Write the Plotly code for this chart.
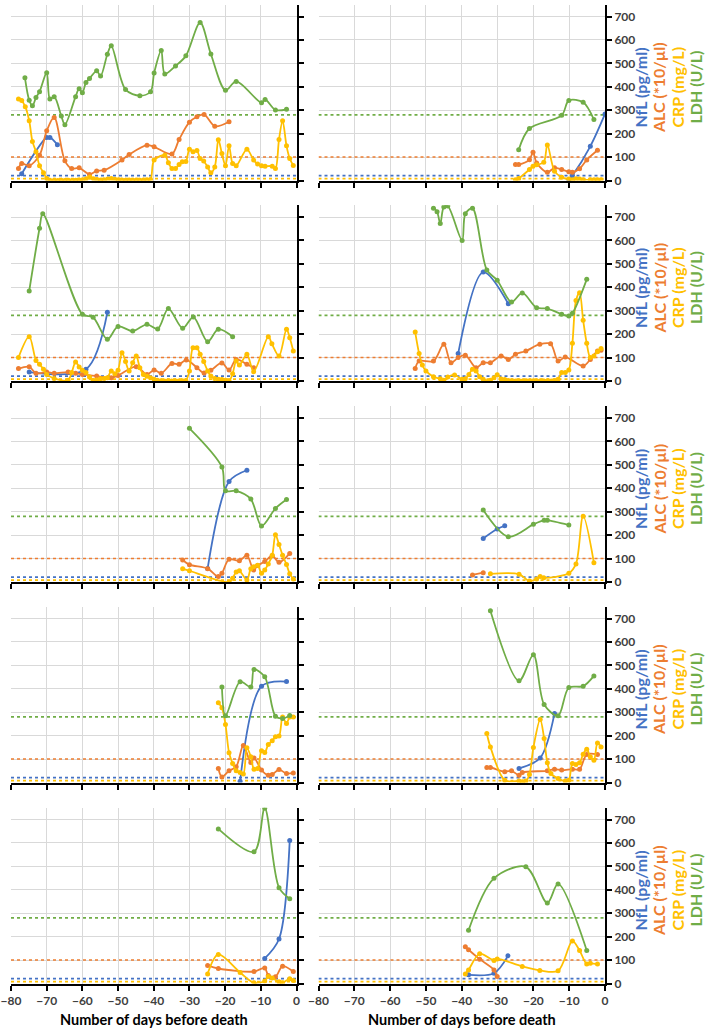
import plotly.graph_objects as go

W, H = 709, 1029
DAY_RANGE = [-80, 0]
VAL_MAX = 750
X_TICKS = [-80, -70, -60, -50, -40, -30, -20, -10, 0]
Y_TICKS = [0, 100, 200, 300, 400, 500, 600, 700]
X_TITLE = "Number of days before death"
SERIES_NAMES = ["NfL (pg/ml)", "ALC (*10/µl)", "CRP (mg/L)", "LDH (U/L)"]
COLORS = ["#4472C4", "#ED7D31", "#FFC000", "#70AD47"]
REF_VALUES = [21, 100, 8, 280]  # NfL, ALC, CRP, LDH cut-offs

# ---------- Panel 1 (row 1, left) ----------
P1_NFL = [(-77.0, 29), (-70.0, 184), (-69.1, 184), (-67.0, 153)]
P1_ALC = [(-77.9, 51), (-77.0, 73), (-74.9, 63), (-72.0, 108), (-70.0, 212), (-67.9, 269),
          (-64.9, 84), (-63.0, 51), (-60.9, 54), (-58.0, 26), (-56.0, 41), (-53.9, 44),
          (-48.9, 88), (-46.9, 111), (-41.9, 151), (-39.9, 144), (-34.9, 113), (-32.9, 175),
          (-30.0, 249), (-27.9, 272), (-25.9, 282), (-22.9, 232), (-18.9, 251)]
P1_CRP = [(-77.9, 348), (-77.0, 341), (-76.0, 315), (-74.9, 255), (-74.0, 167), (-73.0, 123),
          (-72.0, 63), (-70.9, 33), (-70.0, 9), (-69.1, 1), (-67.9, 1), (-66.9, 0), (-65.9, 1),
          (-64.9, 0), (-63.9, 1), (-62.9, 0), (-61.9, 1), (-60.9, 2), (-59.9, 3), (-58.9, 8),
          (-57.9, 15), (-56.9, 8), (-55.9, 4), (-54.9, 2), (-53.9, 3), (-52.9, 6), (-51.9, 9),
          (-50.9, 5), (-49.9, 3), (-48.9, 2), (-47.9, 1), (-46.9, 2), (-45.9, 1), (-44.9, 2),
          (-43.9, 1), (-42.9, 2), (-41.9, 3), (-40.9, 4), (-39.9, 87), (-36.9, 108),
          (-35.9, 76), (-34.9, 51), (-33.9, 51), (-32.9, 68), (-32.0, 80), (-31.0, 81),
          (-30.0, 133), (-29.0, 123), (-27.9, 128), (-27.0, 94), (-26.0, 83), (-24.9, 58),
          (-24.0, 33), (-22.9, 58), (-21.9, 174), (-20.9, 115), (-19.9, 63), (-18.9, 148),
          (-17.9, 73), (-16.9, 63), (-13.9, 133), (-12.0, 87), (-10.9, 70), (-9.8, 63),
          (-8.8, 61), (-6.8, 61), (-5.9, 51), (-4.9, 175), (-3.9, 255), (-2.8, 148),
          (-1.9, 94), (-0.9, 64)]
P1_LDH = [(-76.1, 439), (-74.9, 343), (-74.0, 319), (-73.0, 354), (-72.0, 379), (-70.0, 460),
          (-69.1, 348), (-67.9, 358), (-65.9, 275), (-64.9, 238), (-61.9, 358), (-60.9, 392),
          (-60.0, 375), (-59.0, 418), (-58.0, 435), (-56.0, 468), (-54.9, 446), (-53.0, 539),
          (-51.9, 575), (-47.9, 388), (-43.9, 362), (-40.9, 379), (-39.9, 459), (-37.9, 555),
          (-36.9, 455), (-33.9, 489), (-31.0, 532), (-27.0, 674), (-24.0, 540), (-19.9, 385),
          (-16.9, 423), (-9.8, 332), (-8.8, 346), (-5.9, 301), (-2.8, 304)]

# ---------- Panel 2 (row 1, right) ----------
P2_NFL = [(-10.1, 2), (-9.1, 21), (-4.1, 146), (0.0, 284)]
P2_ALC = [(-25.0, 68), (-24.1, 68), (-21.1, 89), (-20.1, 121), (-19.1, 75), (-16.1, 35),
          (-14.1, 54), (-12.1, 47), (-10.1, 37), (-9.1, 35), (-7.1, 50), (-5.1, 88), (-2.1, 129)]
P2_CRP = [(-25.0, 3), (-24.1, 9), (-21.1, 47), (-20.1, 61), (-19.1, 67), (-17.1, 78),
          (-16.1, 152), (-14.1, 40), (-12.1, 14), (-10.1, 6), (-9.1, 3), (-8.1, 7), (-7.1, 6),
          (-6.1, 3), (-4.1, 3), (-3.1, 3), (-2.1, 3), (-1.1, 3)]
P2_LDH = [(-24.1, 131), (-21.1, 222), (-12.1, 278), (-10.1, 342), (-6.1, 334), (-3.1, 260)]

# ---------- Panel 3 (row 2, left) ----------
P3_NFL = [(-74.9, 38), (-59.0, 50), (-53.0, 293)]
P3_ALC = [(-77.9, 53), (-74.9, 61), (-73.0, 33), (-70.0, 38), (-67.9, 33), (-64.0, 38),
          (-61.9, 33), (-60.0, 28), (-56.0, 21), (-51.9, 14), (-50.0, 24), (-44.9, 61),
          (-41.9, 28), (-39.9, 47), (-37.9, 33), (-34.9, 75), (-32.9, 71), (-30.9, 90),
          (-27.9, 57), (-25.9, 34), (-24.0, 46), (-20.9, 77), (-18.9, 47), (-16.9, 92),
          (-13.9, 71), (-12.0, 57)]
P3_CRP = [(-77.9, 100), (-74.9, 189), (-73.0, 88), (-72.0, 71), (-70.9, 50), (-70.0, 28),
          (-67.9, 11), (-64.0, 3), (-63.0, 36), (-61.9, 81), (-60.9, 60), (-60.0, 46),
          (-59.0, 36), (-58.0, 17), (-57.0, 3), (-56.0, 4), (-54.9, 10), (-53.9, 11),
          (-53.0, 14), (-51.9, 43), (-50.9, 31), (-50.0, 46), (-48.9, 121), (-47.9, 83),
          (-46.9, 43), (-45.9, 78), (-44.9, 107), (-43.9, 57), (-42.9, 28), (-41.9, 20),
          (-40.9, 14), (-39.9, 7), (-39.0, 3), (-38.0, 1), (-37.0, 0), (-36.0, 1), (-35.0, 0),
          (-34.0, 1), (-33.0, 0), (-32.0, 1), (-31.0, 2), (-30.0, 43), (-29.0, 142),
          (-27.9, 142), (-27.0, 114), (-26.0, 83), (-24.9, 43), (-24.0, 21), (-22.9, 11),
          (-21.9, 7), (-20.9, 6), (-19.9, 3), (-18.9, 0), (-17.9, 31), (-16.9, 85),
          (-16.0, 68), (-13.9, 114), (-12.0, 40), (-7.9, 189), (-6.9, 159), (-4.9, 107),
          (-2.8, 221), (-1.9, 185), (-0.9, 128)]
P3_LDH = [(-74.9, 384), (-72.0, 652), (-71.1, 714), (-60.0, 285), (-57.0, 272), (-53.0, 178),
          (-50.0, 233), (-45.9, 213), (-41.9, 242), (-38.9, 222), (-35.9, 309), (-31.9, 225),
          (-28.9, 273), (-24.9, 168), (-21.9, 221), (-17.9, 189)]

# ---------- Panel 4 (row 2, right) ----------
P4_NFL = [(-41.0, 117), (-34.0, 465), (-27.0, 330)]
P4_ALC = [(-53.0, 53), (-51.9, 85), (-47.9, 85), (-45.0, 157), (-43.0, 78), (-41.0, 100),
          (-39.0, 110), (-36.0, 57), (-34.0, 78), (-32.0, 78), (-29.0, 107), (-27.0, 92),
          (-25.0, 114), (-22.1, 128), (-18.2, 157), (-15.2, 159), (-13.1, 85), (-11.1, 102),
          (-6.1, 64), (-4.1, 92), (-2.1, 128), (-1.1, 131)]
P4_CRP = [(-53.0, 209), (-51.9, 117), (-51.0, 68), (-50.0, 43), (-47.9, 18), (-46.0, 10),
          (-45.0, 3), (-43.9, 17), (-42.0, 26), (-39.9, 7), (-39.0, 10), (-38.0, 28),
          (-37.0, 50), (-36.0, 43), (-35.0, 18), (-34.0, 7), (-32.0, 3), (-31.0, 14),
          (-30.1, 27), (-29.0, 9), (-28.0, 6), (-27.0, 2), (-26.0, 1), (-25.0, 0), (-24.0, 1),
          (-23.0, 0), (-22.0, 1), (-21.0, 0), (-20.0, 1), (-19.0, 0), (-18.0, 1), (-17.0, 0),
          (-16.0, 1), (-15.0, 0), (-14.0, 2), (-13.1, 7), (-12.1, 36), (-11.1, 36),
          (-10.1, 47), (-9.1, 161), (-8.1, 344), (-7.1, 377), (-6.1, 259), (-5.1, 161),
          (-4.1, 100), (-3.1, 107), (-2.1, 125), (-1.1, 139)]
P4_LDH = [(-47.9, 737), (-46.9, 723), (-46.0, 672), (-45.0, 743), (-43.9, 747), (-39.9, 600),
          (-39.0, 714), (-37.0, 737), (-33.0, 474), (-30.1, 430), (-26.1, 337), (-23.1, 376),
          (-19.1, 313), (-16.1, 309), (-12.1, 285), (-10.1, 277), (-9.1, 289), (-5.1, 434)]

# ---------- Panel 5 (row 3, left) ----------
P5_NFL = [(-24.9, 58), (-18.9, 429), (-13.9, 477)]
P5_ALC = [(-31.9, 94), (-30.0, 74), (-24.9, 57), (-21.9, 23), (-20.9, 37), (-18.9, 97),
          (-16.0, 91), (-13.9, 114), (-12.0, 51), (-10.9, 70), (-8.9, 87), (-6.8, 112),
          (-4.9, 84), (-1.9, 122)]
P5_CRP = [(-31.9, 57), (-30.0, 48), (-18.9, 0), (-17.9, 16), (-16.9, 43), (-16.0, 48),
          (-13.9, 9), (-12.8, 57), (-12.0, 65), (-10.9, 72), (-9.8, 37), (-8.9, 51), (-7.9, 77),
          (-6.8, 114), (-5.9, 202), (-4.9, 160), (-3.9, 114), (-2.8, 75), (-1.9, 35), (-0.9, 13)]
P5_LDH = [(-30.0, 656), (-20.9, 491), (-19.9, 389), (-16.9, 389), (-12.8, 354), (-9.8, 239),
          (-5.9, 314), (-2.8, 352)]

# ---------- Panel 6 (row 3, right) ----------
P6_NFL = [(-34.0, 186), (-30.1, 226), (-28.0, 240)]
P6_ALC = [(-37.0, 30), (-34.0, 40)]
P6_CRP = [(-32.0, 35), (-24.0, 33), (-21.1, 4), (-19.1, 13), (-18.1, 23), (-17.1, 18),
          (-10.1, 37), (-8.1, 77), (-6.1, 281), (-3.1, 82)]
P6_LDH = [(-34.0, 307), (-27.0, 193), (-20.0, 246), (-17.0, 264), (-16.1, 264), (-10.1, 243)]

# ---------- Panel 7 (row 4, left) ----------
P7_NFL = [(-15.8, 5), (-9.8, 411), (-2.8, 431)]
P7_ALC = [(-21.9, 60), (-20.9, 24), (-18.9, 50), (-16.9, 67), (-14.9, 158), (-12.8, 85),
          (-11.9, 105), (-9.8, 53), (-7.9, 31), (-6.8, 34), (-4.9, 55), (-2.8, 38), (-0.9, 41)]
P7_CRP = [(-21.9, 340), (-20.9, 319), (-19.9, 248), (-18.9, 127), (-17.9, 81), (-16.9, 50),
          (-15.8, 43), (-14.9, 36), (-13.9, 148), (-12.8, 110), (-11.9, 57), (-10.9, 60),
          (-9.8, 135), (-8.9, 128), (-7.9, 162), (-6.8, 178), (-5.9, 195), (-4.9, 198),
          (-3.9, 280), (-2.8, 252), (-1.9, 280), (-0.9, 280)]
P7_LDH = [(-20.9, 408), (-19.9, 285), (-15.8, 430), (-12.8, 408), (-11.9, 482), (-8.9, 451),
          (-5.9, 283), (-3.9, 273), (-1.9, 286)]

# ---------- Panel 8 (row 4, right) ----------
P8_NFL = [(-24.0, 60), (-18.1, 105), (-14.1, 295)]
P8_ALC = [(-33.0, 64), (-32.0, 64), (-28.0, 46), (-26.1, 50), (-24.0, 31), (-23.1, 43),
          (-16.1, 50), (-14.1, 57), (-12.1, 53), (-9.1, 57), (-7.1, 57), (-5.1, 120), (-2.1, 120)]
P8_CRP = [(-33.0, 209), (-32.0, 152), (-28.0, 10), (-24.0, 6), (-23.1, 3), (-22.1, 6),
          (-21.1, 34), (-20.0, 149), (-18.1, 269), (-17.0, 188), (-16.1, 84), (-15.1, 38),
          (-13.1, 17), (-11.1, 6), (-10.1, 10), (-9.1, 81), (-8.1, 77), (-7.1, 84), (-6.1, 121),
          (-5.1, 142), (-4.1, 110), (-3.1, 95), (-2.1, 169), (-1.1, 152)]
P8_LDH = [(-32.0, 733), (-24.0, 434), (-20.0, 545), (-17.0, 333), (-13.1, 285), (-10.1, 405),
          (-6.1, 411), (-3.1, 455)]

# ---------- Panel 9 (row 5, left) ----------
P9_NFL = [(-8.9, 107), (-4.9, 190), (-1.9, 610)]
P9_ALC = [(-24.9, 77), (-21.9, 64), (-11.9, 51), (-8.9, 66), (-7.9, 34), (-5.9, 29),
          (-3.9, 74), (-0.9, 51)]
P9_CRP = [(-24.9, 41), (-21.9, 124), (-15.8, 47), (-11.9, 3), (-8.9, 11), (-7.9, 30),
          (-6.8, 23), (-4.9, 7), (-3.9, 3), (-1.9, 20), (-0.9, 13)]
P9_LDH = [(-21.9, 660), (-11.9, 562), (-8.9, 748), (-4.9, 409), (-1.9, 362)]

# ---------- Panel 10 (row 5, right) ----------
P10_NFL = [(-38.1, 37), (-31.0, 44), (-27.1, 118)]
P10_ALC = [(-39.0, 157), (-38.1, 144), (-35.0, 104), (-31.0, 58), (-30.1, 30)]
P10_CRP = [(-39.0, 41), (-38.1, 58), (-35.0, 127), (-31.0, 98), (-30.1, 105), (-23.1, 73),
           (-18.2, 56), (-13.1, 54), (-9.1, 181), (-7.1, 141), (-5.1, 83), (-4.1, 86), (-2.1, 83)]
P10_LDH = [(-38.1, 227), (-31.0, 449), (-22.1, 498), (-16.1, 344), (-13.1, 425), (-5.1, 141)]

PANELS = [
    (P1_NFL, P1_ALC, P1_CRP, P1_LDH), (P2_NFL, P2_ALC, P2_CRP, P2_LDH),
    (P3_NFL, P3_ALC, P3_CRP, P3_LDH), (P4_NFL, P4_ALC, P4_CRP, P4_LDH),
    (P5_NFL, P5_ALC, P5_CRP, P5_LDH), (P6_NFL, P6_ALC, P6_CRP, P6_LDH),
    (P7_NFL, P7_ALC, P7_CRP, P7_LDH), (P8_NFL, P8_ALC, P8_CRP, P8_LDH),
    (P9_NFL, P9_ALC, P9_CRP, P9_LDH), (P10_NFL, P10_ALC, P10_CRP, P10_LDH),
]

# ---------- layout geometry (page pixels) ----------
COL_X = [(11.0, 296.5), (318.5, 605.0)]
ROW_BOTTOM = [180.5, 381.0, 582.0, 782.5, 983.5]
PLOT_H = 175.7  # pixel height for 0..VAL_MAX
FONT = "Lato"
TICK_COLOR = "#404040"
GRID = "#D9D9D9"
TITLE_X = [640.0, 658.5, 677.0, 695.0]


def px_x(p):
    return p / W


def px_y(p):
    return 1 - p / H


fig = go.Figure()
layout = {}
annotations = []

for i, series in enumerate(PANELS):
    r, c = divmod(i, 2)
    n = i + 1
    xa = "x" if n == 1 else f"x{n}"
    ya = "y" if n == 1 else f"y{n}"
    xkey = "xaxis" if n == 1 else f"xaxis{n}"
    ykey = "yaxis" if n == 1 else f"yaxis{n}"

    # reference lines
    for ref, col in zip(REF_VALUES, COLORS):
        fig.add_trace(go.Scatter(
            x=DAY_RANGE, y=[ref, ref], mode="lines", xaxis=xa, yaxis=ya,
            line=dict(color=col, width=1.6, dash="dot"), showlegend=False, hoverinfo="skip"))

    for pts, col, name in zip(series, COLORS, SERIES_NAMES):
        xs = [p[0] for p in pts]
        ys = [p[1] for p in pts]
        fig.add_trace(go.Scatter(
            x=xs, y=ys, mode="lines+markers", xaxis=xa, yaxis=ya, name=name,
            line=dict(color=col, width=1.8, shape="spline", smoothing=0.9),
            marker=dict(color=col, size=5), showlegend=False, cliponaxis=True))

    x0, x1 = COL_X[c]
    yb = ROW_BOTTOM[r]
    yt = yb - PLOT_H
    last_row = r == 4
    layout[xkey] = dict(
        domain=[px_x(x0), px_x(x1)], range=DAY_RANGE, anchor=ya, automargin=False,
        tickvals=X_TICKS, showticklabels=last_row, ticklabeloverflow="allow",
        ticks="outside", ticklen=5, tickwidth=1.5, tickcolor="black",
        showline=True, linecolor="black", linewidth=2,
        showgrid=True, gridcolor=GRID, gridwidth=1, zeroline=False,
        tickfont=dict(family=FONT, size=12, color=TICK_COLOR, weight="bold"),
    )
    layout[ykey] = dict(
        domain=[px_y(yb), px_y(yt)], range=[0, VAL_MAX], anchor=xa, side="right",
        automargin=False, ticklabeloverflow="allow",
        tickvals=Y_TICKS, showticklabels=(c == 1),
        ticks="outside", ticklen=5, tickwidth=1.5, tickcolor="black",
        showline=True, linecolor="black", linewidth=2,
        showgrid=True, gridcolor=GRID, gridwidth=1, zeroline=False,
        tickfont=dict(family=FONT, size=12, color=TICK_COLOR, weight="bold"),
    )

    if c == 1:
        cy = yb - 93
        for k, (name, col) in enumerate(zip(SERIES_NAMES, COLORS)):
            annotations.append(dict(
                x=px_x(TITLE_X[k]), y=px_y(cy), xref="paper", yref="paper",
                text=f"<b>{name}</b>", textangle=-90, showarrow=False,
                xanchor="center", yanchor="middle",
                font=dict(family=FONT, size=16, color=col)))

for c in range(2):
    x0, x1 = COL_X[c]
    annotations.append(dict(
        x=px_x((x0 + x1) / 2), y=px_y(1019), xref="paper", yref="paper",
        text=f"<b>{X_TITLE}</b>", showarrow=False, xanchor="center", yanchor="middle",
        font=dict(family=FONT, size=14.5, color="black")))

fig.update_layout(
    width=W, height=H, margin=dict(l=0, r=0, t=0, b=0),
    paper_bgcolor="white", plot_bgcolor="white", showlegend=False,
    hovermode=False, annotations=annotations, **layout)

# place the figure flush with the page corner so it fills the 709x1029 window
fig.write_html("out.html", config={"displayModeBar": False},
               post_script="document.body.style.margin='0px';")
